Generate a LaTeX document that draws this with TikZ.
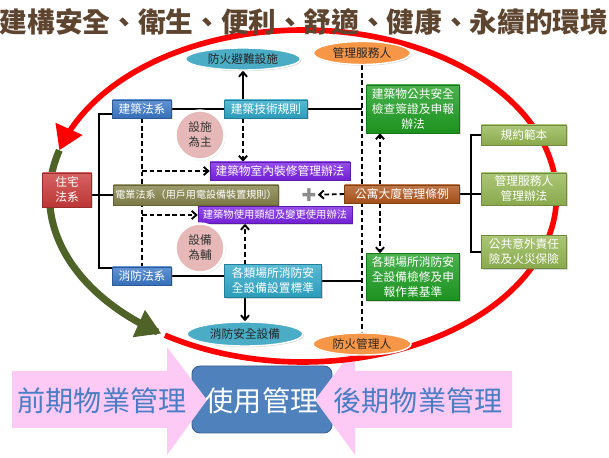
\documentclass[tikz,border=0pt]{standalone}
\usepackage{fontspec}
\setmainfont{Noto Sans CJK TC}
\newfontfamily\symbolfont{DejaVu Sans}
\usetikzlibrary{arrows.meta, shapes.geometric, shadows}

\definecolor{jzblue}{HTML}{3A78C9}
\definecolor{jjcyan}{HTML}{2FA9C9}
\definecolor{snpurple}{HTML}{7B22E6}
\definecolor{dyolive}{HTML}{85834A}
\definecolor{gybrown}{HTML}{B0561C}
\definecolor{gagreen}{HTML}{1E9E22}
\definecolor{gkgreen}{HTML}{96B854}
\definecolor{zzred}{HTML}{CC3B3B}
\definecolor{fateal}{HTML}{4BACC6}
\definecolor{glorange}{HTML}{F79646}
\definecolor{ptpink}{HTML}{E6B9B8}
\definecolor{arcolive}{HTML}{4F6228}
\definecolor{barpink}{HTML}{FCCAF4}
\definecolor{barblue}{HTML}{4F81BD}
\definecolor{bartext}{HTML}{4A7EC4}
\definecolor{titletext}{HTML}{5E4530}

\pgfdeclarelayer{back}
\pgfdeclarelayer{links}
\pgfsetlayers{back,links,main}

\newdimen\pxu \pxu=0.03cm
\newcommand\diagfont{\fontsize{10pt}{12.8pt}\selectfont}

\begin{document}
\begin{tikzpicture}[x=0.03cm, y=-0.03cm, >={Straight Barb[length=4pt, width=7pt]},
  box/.style={rectangle, top color=#1!80!white, bottom color=#1!92!black,
    draw=#1!75!black, line width=0.4pt, text=white, align=center, inner sep=1pt,
    font=\diagfont, drop shadow={opacity=0.3, shadow xshift=1pt, shadow yshift=-1pt}},
  oval/.style={ellipse, fill=#1, draw=white, line width=1.2pt, text=black!85,
    inner sep=0pt, font=\diagfont, drop shadow={opacity=0.3, shadow xshift=1pt, shadow yshift=-1pt}},
  note/.style={circle, fill=ptpink, draw=white, line width=2pt, text=black!80,
    align=center, inner sep=0pt, minimum size=49\pxu, font=\diagfont,
    drop shadow={opacity=0.25, shadow xshift=1pt, shadow yshift=-1pt}},
  link/.style={line width=1.6pt},
  dlink/.style={line width=1.6pt, dash pattern=on 4pt off 2.5pt},
  band/.style={font=\fontsize{24pt}{28pt}\selectfont}]
  \useasboundingbox (0,0) rectangle (609,458);

  \begin{pgfonlayer}{back}
  \fill[white] (0,0) rectangle (609,458);

  % Bottom band
  \draw[fill=barblue, draw=barblue!75!black, line width=0.8pt, rounded corners=8\pxu]
    (192,366) rectangle (332,433);
  \fill[barpink] (12,371) -- (167,371) -- (167,347) -- (207,400) -- (167,455)
    -- (167,428) -- (12,428) -- cycle;
  \fill[barpink] (512,371) -- (355,371) -- (355,347) -- (315,400) -- (355,455)
    -- (355,428) -- (512,428) -- cycle;

  % Cycle
  \draw[line width=4.8pt, red, -{Triangle[length=20pt, width=24pt]}]
    plot[domain=123:-164, samples=150, smooth] ({303+253.5*cos(\x)}, {196+166*sin(\x)});
  \draw[line width=6pt, arcolive, -{Triangle[length=21pt, width=24pt]}]
    plot[domain=196:124, samples=60, smooth] ({303+253.5*cos(\x)}, {196+166*sin(\x)});
  \end{pgfonlayer}

  % Title
  \node[font=\fontsize{23.6pt}{26pt}\selectfont\bfseries, text=titletext] (title) at (304,22)
    {建構安全、衛生、便利、舒適、健康、永續的環境};

  \node[band, text=bartext] (pre) at (102,401) {前期物業管理};
  \node[band, text=white] (use) at (262,401) {使用管理};
  \node[band, text=bartext] (post) at (418,401) {後期物業管理};

  % Ovals
  \node[oval=fateal, minimum width=115\pxu, minimum height=22\pxu] (fa) at (243,59) {防火避難設施};
  \node[oval=glorange, minimum width=97\pxu, minimum height=23\pxu] (gl) at (362,53) {管理服務人};
  \node[oval=fateal, minimum width=116\pxu, minimum height=24\pxu] (xa) at (245,334) {消防安全設備};
  \node[oval=glorange, minimum width=98\pxu, minimum height=22\pxu] (fh) at (362,344) {防火管理人};

  % Laws
  \node[box=zzred, minimum width=49\pxu, minimum height=34\pxu] (zz) at (67,190) {住宅\\法系};
  \node[box=jzblue, minimum width=59\pxu, minimum height=18\pxu] (jz) at (142,109) {建築法系};
  \node[box=jzblue, minimum width=59\pxu, minimum height=18\pxu] (xf) at (142,276) {消防法系};
  \node[box=jjcyan, minimum width=83\pxu, minimum height=18\pxu] (jj) at (266,109) {建築技術規則};
  \node[box=jjcyan, minimum width=97\pxu, minimum height=33\pxu] (ss) at (273,281)
    {各類場所消防安\\全設備設置標準};
  \node[box=snpurple, minimum width=140\pxu, minimum height=18\pxu] (sn) at (280,171)
    {建築物室內裝修管理辦法};
  \node[box=snpurple, minimum width=154\pxu, minimum height=17\pxu,
    font=\fontsize{8.8pt}{10pt}\selectfont] (sy) at (275,215) {建築物使用類組及變更使用辦法};
  \node[box=dyolive, minimum width=165\pxu, minimum height=20\pxu,
    font=\fontsize{8.6pt}{10pt}\selectfont] (dy) at (196,195) {電業法系（用戶用電設備裝置規則）};
  \node[box=gybrown, minimum width=115\pxu, minimum height=18\pxu] (gy) at (402,194) {公寓大廈管理條例};
  \node[box=gagreen, minimum width=93\pxu, minimum height=48\pxu] (ga) at (413,109)
    {建築物公共安全\\檢查簽證及申報\\辦法};
  \node[box=gagreen, minimum width=93\pxu, minimum height=47\pxu] (gj) at (413,277)
    {各類場所消防安\\全設備檢修及申\\報作業基準};
  \node[box=gkgreen, minimum width=85\pxu, minimum height=20\pxu] (gk) at (524,135) {規約範本};
  \node[box=gkgreen, minimum width=85\pxu, minimum height=32\pxu] (gm) at (524,189) {管理服務人\\管理辦法};
  \node[box=gkgreen, minimum width=85\pxu, minimum height=33\pxu] (gp) at (524,252) {公共意外責任\\險及火災保險};

  % Notes
  \node[note] (pa) at (200,135) {設施\\為主};
  \node[note] (pb) at (200,248) {設備\\為輔};
  \node[text=black!45, font=\fontsize{15pt}{15pt}\symbolfont, inner sep=1pt] (plus) at (309,195) {✚};

  \begin{pgfonlayer}{links}
  % Solid links
  \draw[link] (jz) -- (jj);
  \draw[link] (jj.east) -- (jj.east -| gl.south);
  \draw[link] ([yshift=-5\pxu]jz.west) -- ++(-13\pxu,0) |- ([yshift=8\pxu]xf.west);
  \draw[link] (zz.east |- dy.west) -- (dy.west);
  \draw[link] (xf.east) -- (xf.east -| ss.west);
  \draw[link] (ss.east) -- (ss.east -| gl.south);
  \draw[link] (gy.east) -- (gy.east -| gm.west);
  \draw[link] (gk.west) -- ++(-10\pxu,0) |- (gp.west);
  \draw[link, ->] (jj.north -| fa.south) -- (fa.south);
  \draw[link, ->] (ss.south -| xa.north) -- (xa.north);

  % Dashed links
  \draw[dlink] (gl.south) -- (fh.north);
  \draw[dlink] (jz.south) -- (xf.north);
  \draw[dlink, ->] (jz.south |- sn.west) -- (sn.west);
  \draw[dlink, ->] (jz.south |- sy.west) -- (sy.west);
  \draw[dlink, ->] (jj.south -| fa.south) -- (sn.north -| fa.south);
  \draw[dlink, ->] (ss.north -| xa.north) -- (sy.south -| xa.north);
  \draw[dlink, ->] ([xshift=-22\pxu]gy.north) -- ([xshift=-33\pxu]ga.south);
  \draw[dlink, ->] ([xshift=-22\pxu]gy.south) -- ([xshift=-33\pxu]gj.north);
  \draw[dlink, ->] (gy.west) -- (plus);
  \end{pgfonlayer}
\end{tikzpicture}
\end{document}
